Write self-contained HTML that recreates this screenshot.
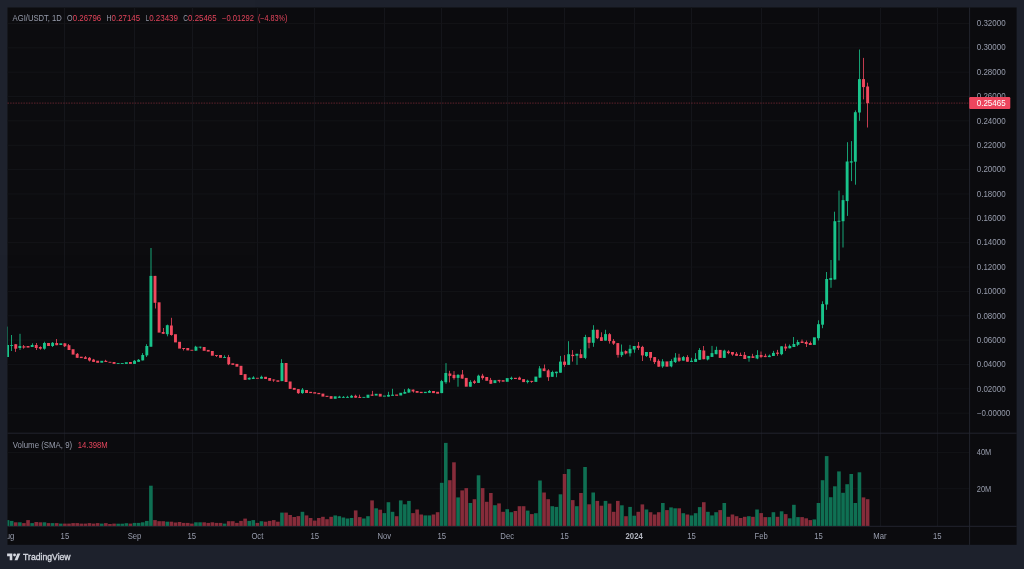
<!DOCTYPE html>
<html><head><meta charset="utf-8"><title>AGI/USDT chart</title>
<style>html,body{margin:0;padding:0;background:#1e222d;overflow:hidden}body{width:1024px;height:569px}svg{display:block;will-change:transform;opacity:0.999}text{font-family:"Liberation Sans",sans-serif;font-size:8.3px}</style>
</head><body>
<svg width="1024" height="569" viewBox="0 0 1024 569">
<defs><clipPath id="cc"><rect x="7.5" y="7.5" width="1009.1" height="537.3"/></clipPath></defs>
<rect x="0" y="0" width="1024" height="569" fill="#1e222d"/>
<rect x="7.5" y="7.5" width="1009.1" height="537.3" fill="#0c0c0f"/>
<g stroke="#15161b" stroke-width="0.8" fill="none">
<line x1="64.50" y1="7.5" x2="64.50" y2="526.3" stroke-width="1"/>
<line x1="134.50" y1="7.5" x2="134.50" y2="526.3" stroke-width="1"/>
<line x1="192.50" y1="7.5" x2="192.50" y2="526.3" stroke-width="1"/>
<line x1="257.50" y1="7.5" x2="257.50" y2="526.3" stroke-width="1"/>
<line x1="314.50" y1="7.5" x2="314.50" y2="526.3" stroke-width="1"/>
<line x1="384.50" y1="7.5" x2="384.50" y2="526.3" stroke-width="1"/>
<line x1="441.50" y1="7.5" x2="441.50" y2="526.3" stroke-width="1"/>
<line x1="507.50" y1="7.5" x2="507.50" y2="526.3" stroke-width="1"/>
<line x1="564.50" y1="7.5" x2="564.50" y2="526.3" stroke-width="1"/>
<line x1="634.50" y1="7.5" x2="634.50" y2="526.3" stroke-width="1"/>
<line x1="691.50" y1="7.5" x2="691.50" y2="526.3" stroke-width="1"/>
<line x1="761.50" y1="7.5" x2="761.50" y2="526.3" stroke-width="1"/>
<line x1="818.50" y1="7.5" x2="818.50" y2="526.3" stroke-width="1"/>
<line x1="880.50" y1="7.5" x2="880.50" y2="526.3" stroke-width="1"/>
<line x1="937.50" y1="7.5" x2="937.50" y2="526.3" stroke-width="1"/>
<line x1="7.5" y1="413.20" x2="969.6" y2="413.20"/>
<line x1="7.5" y1="388.84" x2="969.6" y2="388.84"/>
<line x1="7.5" y1="364.48" x2="969.6" y2="364.48"/>
<line x1="7.5" y1="340.12" x2="969.6" y2="340.12"/>
<line x1="7.5" y1="315.76" x2="969.6" y2="315.76"/>
<line x1="7.5" y1="291.40" x2="969.6" y2="291.40"/>
<line x1="7.5" y1="267.04" x2="969.6" y2="267.04"/>
<line x1="7.5" y1="242.68" x2="969.6" y2="242.68"/>
<line x1="7.5" y1="218.32" x2="969.6" y2="218.32"/>
<line x1="7.5" y1="193.96" x2="969.6" y2="193.96"/>
<line x1="7.5" y1="169.60" x2="969.6" y2="169.60"/>
<line x1="7.5" y1="145.24" x2="969.6" y2="145.24"/>
<line x1="7.5" y1="120.88" x2="969.6" y2="120.88"/>
<line x1="7.5" y1="96.52" x2="969.6" y2="96.52"/>
<line x1="7.5" y1="72.16" x2="969.6" y2="72.16"/>
<line x1="7.5" y1="47.80" x2="969.6" y2="47.80"/>
<line x1="7.5" y1="23.44" x2="969.6" y2="23.44"/>
<line x1="7.5" y1="452.40" x2="969.6" y2="452.40"/>
<line x1="7.5" y1="488.70" x2="969.6" y2="488.70"/>
</g>
<g stroke="#262832" stroke-width="0.9" fill="none">
<line x1="7.5" y1="433.2" x2="1016.6" y2="433.2"/>
<line x1="7.5" y1="526.3" x2="1016.6" y2="526.3"/>
<line x1="969.6" y1="7.5" x2="969.6" y2="544.8"/>
</g>
<g clip-path="url(#cc)">
<rect x="5.76" y="520.10" width="3.6" height="5.80" fill="#107154"/>
<rect x="9.86" y="520.90" width="3.6" height="5.00" fill="#107154"/>
<rect x="13.95" y="522.30" width="3.6" height="3.60" fill="#872d3b"/>
<rect x="18.05" y="522.30" width="3.6" height="3.60" fill="#107154"/>
<rect x="22.14" y="523.10" width="3.6" height="2.80" fill="#872d3b"/>
<rect x="26.24" y="520.10" width="3.6" height="5.80" fill="#872d3b"/>
<rect x="30.34" y="523.10" width="3.6" height="2.80" fill="#107154"/>
<rect x="34.43" y="522.00" width="3.6" height="3.90" fill="#872d3b"/>
<rect x="38.53" y="522.30" width="3.6" height="3.60" fill="#872d3b"/>
<rect x="42.62" y="522.30" width="3.6" height="3.60" fill="#107154"/>
<rect x="46.72" y="523.10" width="3.6" height="2.80" fill="#872d3b"/>
<rect x="50.81" y="523.10" width="3.6" height="2.80" fill="#107154"/>
<rect x="54.91" y="523.10" width="3.6" height="2.80" fill="#872d3b"/>
<rect x="59.00" y="523.60" width="3.6" height="2.30" fill="#107154"/>
<rect x="63.10" y="523.60" width="3.6" height="2.30" fill="#872d3b"/>
<rect x="67.20" y="523.60" width="3.6" height="2.30" fill="#872d3b"/>
<rect x="71.29" y="523.10" width="3.6" height="2.80" fill="#872d3b"/>
<rect x="75.39" y="523.10" width="3.6" height="2.80" fill="#872d3b"/>
<rect x="79.48" y="523.60" width="3.6" height="2.30" fill="#872d3b"/>
<rect x="83.58" y="523.60" width="3.6" height="2.30" fill="#872d3b"/>
<rect x="87.67" y="523.10" width="3.6" height="2.80" fill="#872d3b"/>
<rect x="91.77" y="523.60" width="3.6" height="2.30" fill="#872d3b"/>
<rect x="95.86" y="523.10" width="3.6" height="2.80" fill="#872d3b"/>
<rect x="99.96" y="523.60" width="3.6" height="2.30" fill="#107154"/>
<rect x="104.06" y="523.10" width="3.6" height="2.80" fill="#872d3b"/>
<rect x="108.15" y="524.00" width="3.6" height="1.90" fill="#872d3b"/>
<rect x="112.25" y="523.60" width="3.6" height="2.30" fill="#872d3b"/>
<rect x="116.34" y="523.70" width="3.6" height="2.20" fill="#107154"/>
<rect x="120.44" y="523.70" width="3.6" height="2.20" fill="#107154"/>
<rect x="124.53" y="523.20" width="3.6" height="2.70" fill="#107154"/>
<rect x="128.63" y="523.60" width="3.6" height="2.30" fill="#872d3b"/>
<rect x="132.72" y="522.90" width="3.6" height="3.00" fill="#107154"/>
<rect x="136.82" y="522.90" width="3.6" height="3.00" fill="#107154"/>
<rect x="140.91" y="522.30" width="3.6" height="3.60" fill="#107154"/>
<rect x="145.01" y="520.90" width="3.6" height="5.00" fill="#107154"/>
<rect x="149.11" y="485.70" width="3.6" height="40.20" fill="#107154"/>
<rect x="153.20" y="520.10" width="3.6" height="5.80" fill="#872d3b"/>
<rect x="157.30" y="521.20" width="3.6" height="4.70" fill="#872d3b"/>
<rect x="161.39" y="521.20" width="3.6" height="4.70" fill="#872d3b"/>
<rect x="165.49" y="521.70" width="3.6" height="4.20" fill="#107154"/>
<rect x="169.58" y="521.70" width="3.6" height="4.20" fill="#872d3b"/>
<rect x="173.68" y="522.50" width="3.6" height="3.40" fill="#872d3b"/>
<rect x="177.77" y="522.00" width="3.6" height="3.90" fill="#872d3b"/>
<rect x="181.87" y="522.90" width="3.6" height="3.00" fill="#872d3b"/>
<rect x="185.97" y="522.90" width="3.6" height="3.00" fill="#872d3b"/>
<rect x="190.06" y="523.60" width="3.6" height="2.30" fill="#872d3b"/>
<rect x="194.16" y="522.30" width="3.6" height="3.60" fill="#107154"/>
<rect x="198.25" y="522.30" width="3.6" height="3.60" fill="#107154"/>
<rect x="202.35" y="522.30" width="3.6" height="3.60" fill="#872d3b"/>
<rect x="206.44" y="522.90" width="3.6" height="3.00" fill="#872d3b"/>
<rect x="210.54" y="522.30" width="3.6" height="3.60" fill="#872d3b"/>
<rect x="214.63" y="522.90" width="3.6" height="3.00" fill="#872d3b"/>
<rect x="218.73" y="522.90" width="3.6" height="3.00" fill="#872d3b"/>
<rect x="222.82" y="523.60" width="3.6" height="2.30" fill="#107154"/>
<rect x="226.92" y="521.20" width="3.6" height="4.70" fill="#872d3b"/>
<rect x="231.02" y="521.20" width="3.6" height="4.70" fill="#872d3b"/>
<rect x="235.11" y="522.90" width="3.6" height="3.00" fill="#872d3b"/>
<rect x="239.21" y="520.90" width="3.6" height="5.00" fill="#872d3b"/>
<rect x="243.30" y="518.60" width="3.6" height="7.30" fill="#872d3b"/>
<rect x="247.40" y="520.90" width="3.6" height="5.00" fill="#107154"/>
<rect x="251.49" y="520.10" width="3.6" height="5.80" fill="#107154"/>
<rect x="255.59" y="522.90" width="3.6" height="3.00" fill="#872d3b"/>
<rect x="259.68" y="521.20" width="3.6" height="4.70" fill="#107154"/>
<rect x="263.78" y="521.70" width="3.6" height="4.20" fill="#872d3b"/>
<rect x="267.88" y="520.90" width="3.6" height="5.00" fill="#872d3b"/>
<rect x="271.97" y="520.10" width="3.6" height="5.80" fill="#872d3b"/>
<rect x="276.07" y="521.70" width="3.6" height="4.20" fill="#872d3b"/>
<rect x="280.16" y="512.60" width="3.6" height="13.30" fill="#107154"/>
<rect x="284.26" y="512.60" width="3.6" height="13.30" fill="#872d3b"/>
<rect x="288.35" y="515.00" width="3.6" height="10.90" fill="#872d3b"/>
<rect x="292.45" y="517.00" width="3.6" height="8.90" fill="#872d3b"/>
<rect x="296.54" y="516.10" width="3.6" height="9.80" fill="#872d3b"/>
<rect x="300.64" y="511.80" width="3.6" height="14.10" fill="#107154"/>
<rect x="304.73" y="515.40" width="3.6" height="10.50" fill="#872d3b"/>
<rect x="308.83" y="518.00" width="3.6" height="7.90" fill="#872d3b"/>
<rect x="312.93" y="520.60" width="3.6" height="5.30" fill="#872d3b"/>
<rect x="317.02" y="518.00" width="3.6" height="7.90" fill="#872d3b"/>
<rect x="321.12" y="516.80" width="3.6" height="9.10" fill="#872d3b"/>
<rect x="325.21" y="519.20" width="3.6" height="6.70" fill="#872d3b"/>
<rect x="329.31" y="516.80" width="3.6" height="9.10" fill="#872d3b"/>
<rect x="333.40" y="515.40" width="3.6" height="10.50" fill="#107154"/>
<rect x="337.50" y="516.20" width="3.6" height="9.70" fill="#107154"/>
<rect x="341.59" y="517.50" width="3.6" height="8.40" fill="#107154"/>
<rect x="345.69" y="518.50" width="3.6" height="7.40" fill="#107154"/>
<rect x="349.79" y="518.00" width="3.6" height="7.90" fill="#107154"/>
<rect x="353.88" y="510.40" width="3.6" height="15.50" fill="#872d3b"/>
<rect x="357.98" y="517.10" width="3.6" height="8.80" fill="#872d3b"/>
<rect x="362.07" y="518.50" width="3.6" height="7.40" fill="#107154"/>
<rect x="366.17" y="516.20" width="3.6" height="9.70" fill="#107154"/>
<rect x="370.26" y="500.40" width="3.6" height="25.50" fill="#872d3b"/>
<rect x="374.36" y="508.30" width="3.6" height="17.60" fill="#107154"/>
<rect x="378.45" y="509.70" width="3.6" height="16.20" fill="#872d3b"/>
<rect x="382.55" y="513.10" width="3.6" height="12.80" fill="#107154"/>
<rect x="386.64" y="502.20" width="3.6" height="23.70" fill="#107154"/>
<rect x="390.74" y="511.80" width="3.6" height="14.10" fill="#107154"/>
<rect x="394.84" y="516.20" width="3.6" height="9.70" fill="#872d3b"/>
<rect x="398.93" y="500.40" width="3.6" height="25.50" fill="#107154"/>
<rect x="403.03" y="504.30" width="3.6" height="21.60" fill="#107154"/>
<rect x="407.12" y="500.90" width="3.6" height="25.00" fill="#107154"/>
<rect x="411.22" y="513.10" width="3.6" height="12.80" fill="#872d3b"/>
<rect x="415.31" y="509.50" width="3.6" height="16.40" fill="#872d3b"/>
<rect x="419.41" y="514.50" width="3.6" height="11.40" fill="#872d3b"/>
<rect x="423.50" y="515.40" width="3.6" height="10.50" fill="#107154"/>
<rect x="427.60" y="515.40" width="3.6" height="10.50" fill="#107154"/>
<rect x="431.69" y="514.50" width="3.6" height="11.40" fill="#872d3b"/>
<rect x="435.79" y="512.20" width="3.6" height="13.70" fill="#872d3b"/>
<rect x="439.89" y="482.80" width="3.6" height="43.10" fill="#107154"/>
<rect x="443.98" y="442.90" width="3.6" height="83.00" fill="#107154"/>
<rect x="448.08" y="480.20" width="3.6" height="45.70" fill="#872d3b"/>
<rect x="452.17" y="462.30" width="3.6" height="63.60" fill="#872d3b"/>
<rect x="456.27" y="497.40" width="3.6" height="28.50" fill="#107154"/>
<rect x="460.36" y="490.40" width="3.6" height="35.50" fill="#872d3b"/>
<rect x="464.46" y="488.10" width="3.6" height="37.80" fill="#872d3b"/>
<rect x="468.55" y="503.00" width="3.6" height="22.90" fill="#107154"/>
<rect x="472.65" y="499.20" width="3.6" height="26.70" fill="#872d3b"/>
<rect x="476.75" y="475.30" width="3.6" height="50.60" fill="#107154"/>
<rect x="480.84" y="488.10" width="3.6" height="37.80" fill="#872d3b"/>
<rect x="484.94" y="501.80" width="3.6" height="24.10" fill="#872d3b"/>
<rect x="489.03" y="493.00" width="3.6" height="32.90" fill="#872d3b"/>
<rect x="493.13" y="505.20" width="3.6" height="20.70" fill="#107154"/>
<rect x="497.22" y="503.40" width="3.6" height="22.50" fill="#872d3b"/>
<rect x="501.32" y="511.80" width="3.6" height="14.10" fill="#872d3b"/>
<rect x="505.41" y="509.20" width="3.6" height="16.70" fill="#107154"/>
<rect x="509.51" y="512.20" width="3.6" height="13.70" fill="#107154"/>
<rect x="513.61" y="511.00" width="3.6" height="14.90" fill="#872d3b"/>
<rect x="517.70" y="506.20" width="3.6" height="19.70" fill="#872d3b"/>
<rect x="521.80" y="506.20" width="3.6" height="19.70" fill="#872d3b"/>
<rect x="525.89" y="510.60" width="3.6" height="15.30" fill="#107154"/>
<rect x="529.99" y="514.10" width="3.6" height="11.80" fill="#872d3b"/>
<rect x="534.08" y="513.20" width="3.6" height="12.70" fill="#107154"/>
<rect x="538.18" y="480.50" width="3.6" height="45.40" fill="#107154"/>
<rect x="542.27" y="492.50" width="3.6" height="33.40" fill="#872d3b"/>
<rect x="546.37" y="499.20" width="3.6" height="26.70" fill="#872d3b"/>
<rect x="550.46" y="506.20" width="3.6" height="19.70" fill="#107154"/>
<rect x="554.56" y="506.90" width="3.6" height="19.00" fill="#107154"/>
<rect x="558.66" y="494.30" width="3.6" height="31.60" fill="#107154"/>
<rect x="562.75" y="474.00" width="3.6" height="51.90" fill="#872d3b"/>
<rect x="566.85" y="469.10" width="3.6" height="56.80" fill="#107154"/>
<rect x="570.94" y="500.10" width="3.6" height="25.80" fill="#872d3b"/>
<rect x="575.04" y="506.20" width="3.6" height="19.70" fill="#107154"/>
<rect x="579.13" y="493.00" width="3.6" height="32.90" fill="#872d3b"/>
<rect x="583.23" y="467.00" width="3.6" height="58.90" fill="#107154"/>
<rect x="587.32" y="504.30" width="3.6" height="21.60" fill="#872d3b"/>
<rect x="591.42" y="492.50" width="3.6" height="33.40" fill="#107154"/>
<rect x="595.52" y="500.90" width="3.6" height="25.00" fill="#872d3b"/>
<rect x="599.61" y="505.70" width="3.6" height="20.20" fill="#872d3b"/>
<rect x="603.71" y="500.90" width="3.6" height="25.00" fill="#107154"/>
<rect x="607.80" y="503.60" width="3.6" height="22.30" fill="#872d3b"/>
<rect x="611.90" y="511.80" width="3.6" height="14.10" fill="#872d3b"/>
<rect x="615.99" y="500.90" width="3.6" height="25.00" fill="#872d3b"/>
<rect x="620.09" y="505.30" width="3.6" height="20.60" fill="#107154"/>
<rect x="624.18" y="516.20" width="3.6" height="9.70" fill="#872d3b"/>
<rect x="628.28" y="506.90" width="3.6" height="19.00" fill="#107154"/>
<rect x="632.37" y="515.70" width="3.6" height="10.20" fill="#107154"/>
<rect x="636.47" y="511.80" width="3.6" height="14.10" fill="#872d3b"/>
<rect x="640.57" y="504.40" width="3.6" height="21.50" fill="#872d3b"/>
<rect x="644.66" y="509.50" width="3.6" height="16.40" fill="#107154"/>
<rect x="648.76" y="512.20" width="3.6" height="13.70" fill="#872d3b"/>
<rect x="652.85" y="514.50" width="3.6" height="11.40" fill="#872d3b"/>
<rect x="656.95" y="512.20" width="3.6" height="13.70" fill="#872d3b"/>
<rect x="661.04" y="503.00" width="3.6" height="22.90" fill="#107154"/>
<rect x="665.14" y="510.10" width="3.6" height="15.80" fill="#872d3b"/>
<rect x="669.23" y="507.40" width="3.6" height="18.50" fill="#107154"/>
<rect x="673.33" y="508.30" width="3.6" height="17.60" fill="#107154"/>
<rect x="677.43" y="508.30" width="3.6" height="17.60" fill="#872d3b"/>
<rect x="681.52" y="513.20" width="3.6" height="12.70" fill="#107154"/>
<rect x="685.62" y="514.50" width="3.6" height="11.40" fill="#872d3b"/>
<rect x="689.71" y="515.40" width="3.6" height="10.50" fill="#107154"/>
<rect x="693.81" y="513.20" width="3.6" height="12.70" fill="#107154"/>
<rect x="697.90" y="507.10" width="3.6" height="18.80" fill="#107154"/>
<rect x="702.00" y="502.20" width="3.6" height="23.70" fill="#872d3b"/>
<rect x="706.09" y="511.80" width="3.6" height="14.10" fill="#107154"/>
<rect x="710.19" y="515.40" width="3.6" height="10.50" fill="#107154"/>
<rect x="714.28" y="512.20" width="3.6" height="13.70" fill="#107154"/>
<rect x="718.38" y="510.10" width="3.6" height="15.80" fill="#872d3b"/>
<rect x="722.48" y="503.00" width="3.6" height="22.90" fill="#107154"/>
<rect x="726.57" y="516.80" width="3.6" height="9.10" fill="#872d3b"/>
<rect x="730.67" y="514.50" width="3.6" height="11.40" fill="#872d3b"/>
<rect x="734.76" y="516.20" width="3.6" height="9.70" fill="#872d3b"/>
<rect x="738.86" y="518.00" width="3.6" height="7.90" fill="#872d3b"/>
<rect x="742.95" y="516.80" width="3.6" height="9.10" fill="#872d3b"/>
<rect x="747.05" y="516.20" width="3.6" height="9.70" fill="#107154"/>
<rect x="751.14" y="516.80" width="3.6" height="9.10" fill="#872d3b"/>
<rect x="755.24" y="509.50" width="3.6" height="16.40" fill="#107154"/>
<rect x="759.34" y="513.10" width="3.6" height="12.80" fill="#872d3b"/>
<rect x="763.43" y="517.10" width="3.6" height="8.80" fill="#872d3b"/>
<rect x="767.53" y="517.10" width="3.6" height="8.80" fill="#107154"/>
<rect x="771.62" y="512.20" width="3.6" height="13.70" fill="#107154"/>
<rect x="775.72" y="516.80" width="3.6" height="9.10" fill="#872d3b"/>
<rect x="779.81" y="511.30" width="3.6" height="14.60" fill="#107154"/>
<rect x="783.91" y="514.10" width="3.6" height="11.80" fill="#872d3b"/>
<rect x="788.00" y="518.30" width="3.6" height="7.60" fill="#107154"/>
<rect x="792.10" y="504.80" width="3.6" height="21.10" fill="#107154"/>
<rect x="796.19" y="517.10" width="3.6" height="8.80" fill="#107154"/>
<rect x="800.29" y="517.10" width="3.6" height="8.80" fill="#872d3b"/>
<rect x="804.39" y="518.30" width="3.6" height="7.60" fill="#872d3b"/>
<rect x="808.48" y="520.10" width="3.6" height="5.80" fill="#872d3b"/>
<rect x="812.58" y="519.40" width="3.6" height="6.50" fill="#107154"/>
<rect x="816.67" y="503.00" width="3.6" height="22.90" fill="#107154"/>
<rect x="820.77" y="480.20" width="3.6" height="45.70" fill="#107154"/>
<rect x="824.86" y="456.10" width="3.6" height="69.80" fill="#107154"/>
<rect x="828.96" y="497.20" width="3.6" height="28.70" fill="#107154"/>
<rect x="833.05" y="486.30" width="3.6" height="39.60" fill="#107154"/>
<rect x="837.15" y="471.40" width="3.6" height="54.50" fill="#107154"/>
<rect x="841.25" y="492.80" width="3.6" height="33.10" fill="#107154"/>
<rect x="845.34" y="484.20" width="3.6" height="41.70" fill="#107154"/>
<rect x="849.44" y="474.00" width="3.6" height="51.90" fill="#107154"/>
<rect x="853.53" y="503.00" width="3.6" height="22.90" fill="#107154"/>
<rect x="857.63" y="472.30" width="3.6" height="53.60" fill="#107154"/>
<rect x="861.72" y="497.40" width="3.6" height="28.50" fill="#872d3b"/>
<rect x="865.82" y="499.20" width="3.6" height="26.70" fill="#872d3b"/>
</g>
<line x1="7.5" y1="103.1" x2="969.6" y2="103.1" stroke="#f2495f" stroke-width="1" stroke-dasharray="1.5 1.15" opacity="0.37"/>
<g clip-path="url(#cc)">
<rect x="7" y="326.60" width="1" height="30.40" fill="#1ac58c" opacity="0.8"/>
<rect x="6.11" y="345.00" width="2.9" height="12.00" fill="#1ac58c"/>
<rect x="11" y="335.00" width="1" height="16.00" fill="#1ac58c" opacity="0.8"/>
<rect x="10.21" y="345.00" width="2.9" height="0.90" fill="#1ac58c"/>
<rect x="15" y="344.20" width="1" height="7.70" fill="#f2495f" opacity="0.8"/>
<rect x="14.30" y="344.20" width="2.9" height="4.50" fill="#f2495f"/>
<rect x="19" y="333.80" width="2" height="16.20" fill="#1ac58c" opacity="0.42"/>
<rect x="18.40" y="346.00" width="2.9" height="2.00" fill="#1ac58c"/>
<rect x="23" y="345.00" width="1" height="3.70" fill="#f2495f" opacity="0.8"/>
<rect x="22.50" y="346.30" width="2.9" height="1.30" fill="#f2495f"/>
<rect x="26.59" y="346.00" width="2.9" height="1.60" fill="#f2495f"/>
<rect x="32" y="343.30" width="1" height="3.70" fill="#1ac58c" opacity="0.8"/>
<rect x="30.69" y="345.00" width="2.9" height="2.00" fill="#1ac58c"/>
<rect x="36" y="343.00" width="1" height="7.00" fill="#f2495f" opacity="0.8"/>
<rect x="34.78" y="345.00" width="2.9" height="3.00" fill="#f2495f"/>
<rect x="40" y="346.30" width="1" height="3.40" fill="#f2495f" opacity="0.8"/>
<rect x="38.88" y="347.00" width="2.9" height="1.70" fill="#f2495f"/>
<rect x="44" y="341.70" width="1" height="8.00" fill="#1ac58c" opacity="0.8"/>
<rect x="42.97" y="343.00" width="2.9" height="5.70" fill="#1ac58c"/>
<rect x="47.07" y="343.00" width="2.9" height="3.00" fill="#f2495f"/>
<rect x="52" y="342.00" width="1" height="5.00" fill="#1ac58c" opacity="0.8"/>
<rect x="51.16" y="342.80" width="2.9" height="3.20" fill="#1ac58c"/>
<rect x="56" y="339.00" width="1" height="6.20" fill="#f2495f" opacity="0.8"/>
<rect x="55.26" y="343.00" width="2.9" height="2.20" fill="#f2495f"/>
<rect x="59.35" y="343.30" width="2.9" height="1.70" fill="#1ac58c"/>
<rect x="64" y="343.30" width="1" height="3.70" fill="#f2495f" opacity="0.8"/>
<rect x="63.45" y="343.30" width="2.9" height="3.00" fill="#f2495f"/>
<rect x="68" y="344.00" width="1" height="6.00" fill="#f2495f" opacity="0.8"/>
<rect x="67.55" y="345.20" width="2.9" height="4.80" fill="#f2495f"/>
<rect x="71.64" y="349.20" width="2.9" height="5.40" fill="#f2495f"/>
<rect x="77" y="353.00" width="1" height="4.80" fill="#f2495f" opacity="0.8"/>
<rect x="75.74" y="353.80" width="2.9" height="4.00" fill="#f2495f"/>
<rect x="79.83" y="356.70" width="2.9" height="1.40" fill="#f2495f"/>
<rect x="85" y="356.00" width="1" height="2.90" fill="#f2495f" opacity="0.8"/>
<rect x="83.93" y="357.30" width="2.9" height="1.60" fill="#f2495f"/>
<rect x="89" y="357.00" width="1" height="4.50" fill="#f2495f" opacity="0.8"/>
<rect x="88.02" y="357.80" width="2.9" height="2.70" fill="#f2495f"/>
<rect x="93" y="358.90" width="1" height="3.00" fill="#f2495f" opacity="0.8"/>
<rect x="92.12" y="359.60" width="2.9" height="2.30" fill="#f2495f"/>
<rect x="96.21" y="360.70" width="2.9" height="2.10" fill="#f2495f"/>
<rect x="100.31" y="360.80" width="2.9" height="1.90" fill="#1ac58c"/>
<rect x="105" y="359.80" width="1" height="2.20" fill="#f2495f" opacity="0.8"/>
<rect x="104.41" y="360.80" width="2.9" height="1.20" fill="#f2495f"/>
<rect x="108.50" y="361.80" width="2.9" height="0.90" fill="#f2495f"/>
<rect x="112.60" y="362.00" width="2.9" height="1.90" fill="#f2495f"/>
<rect x="116.69" y="363.00" width="2.9" height="0.90" fill="#1ac58c"/>
<rect x="120.79" y="363.00" width="2.9" height="0.90" fill="#1ac58c"/>
<rect x="124.88" y="362.20" width="2.9" height="1.70" fill="#1ac58c"/>
<rect x="128.98" y="362.00" width="2.9" height="1.90" fill="#f2495f"/>
<rect x="134" y="360.00" width="1" height="3.90" fill="#1ac58c" opacity="0.8"/>
<rect x="133.07" y="360.80" width="2.9" height="3.10" fill="#1ac58c"/>
<rect x="138" y="359.00" width="1" height="2.80" fill="#1ac58c" opacity="0.8"/>
<rect x="137.17" y="359.80" width="2.9" height="2.00" fill="#1ac58c"/>
<rect x="142" y="353.10" width="1" height="7.30" fill="#1ac58c" opacity="0.8"/>
<rect x="141.26" y="355.00" width="2.9" height="5.40" fill="#1ac58c"/>
<rect x="146" y="344.20" width="1" height="12.80" fill="#1ac58c" opacity="0.8"/>
<rect x="145.36" y="346.00" width="2.9" height="9.40" fill="#1ac58c"/>
<rect x="150" y="248.00" width="2" height="98.70" fill="#1ac58c" opacity="0.42"/>
<rect x="149.46" y="275.90" width="2.9" height="70.80" fill="#1ac58c"/>
<rect x="155" y="275.90" width="1" height="32.60" fill="#f2495f" opacity="0.8"/>
<rect x="153.55" y="275.90" width="2.9" height="26.90" fill="#f2495f"/>
<rect x="157.65" y="302.30" width="2.9" height="30.30" fill="#f2495f"/>
<rect x="163" y="328.00" width="1" height="5.80" fill="#f2495f" opacity="0.8"/>
<rect x="161.74" y="332.00" width="2.9" height="1.80" fill="#f2495f"/>
<rect x="167" y="324.60" width="1" height="11.70" fill="#1ac58c" opacity="0.8"/>
<rect x="165.84" y="325.20" width="2.9" height="9.00" fill="#1ac58c"/>
<rect x="171" y="317.80" width="1" height="17.90" fill="#f2495f" opacity="0.8"/>
<rect x="169.93" y="325.50" width="2.9" height="9.50" fill="#f2495f"/>
<rect x="174.03" y="334.20" width="2.9" height="8.20" fill="#f2495f"/>
<rect x="178.12" y="341.80" width="2.9" height="6.80" fill="#f2495f"/>
<rect x="183" y="348.00" width="1" height="2.50" fill="#f2495f" opacity="0.8"/>
<rect x="182.22" y="348.00" width="2.9" height="1.00" fill="#f2495f"/>
<rect x="186.32" y="348.00" width="2.9" height="2.40" fill="#f2495f"/>
<rect x="190.41" y="349.80" width="2.9" height="0.90" fill="#f2495f"/>
<rect x="195" y="345.80" width="1" height="4.90" fill="#1ac58c" opacity="0.8"/>
<rect x="194.51" y="346.70" width="2.9" height="4.00" fill="#1ac58c"/>
<rect x="200" y="346.70" width="1" height="1.80" fill="#1ac58c" opacity="0.8"/>
<rect x="198.60" y="346.70" width="2.9" height="0.90" fill="#1ac58c"/>
<rect x="202.70" y="347.00" width="2.9" height="3.80" fill="#f2495f"/>
<rect x="206.79" y="349.90" width="2.9" height="1.70" fill="#f2495f"/>
<rect x="210.89" y="351.00" width="2.9" height="4.70" fill="#f2495f"/>
<rect x="216" y="355.00" width="1" height="2.00" fill="#f2495f" opacity="0.8"/>
<rect x="214.98" y="355.00" width="2.9" height="0.90" fill="#f2495f"/>
<rect x="219.08" y="355.00" width="2.9" height="2.80" fill="#f2495f"/>
<rect x="224" y="355.30" width="1" height="2.50" fill="#1ac58c" opacity="0.8"/>
<rect x="223.17" y="357.10" width="2.9" height="0.90" fill="#1ac58c"/>
<rect x="228" y="354.90" width="1" height="10.20" fill="#f2495f" opacity="0.8"/>
<rect x="227.27" y="357.10" width="2.9" height="7.20" fill="#f2495f"/>
<rect x="231.37" y="363.30" width="2.9" height="1.60" fill="#f2495f"/>
<rect x="235.46" y="363.90" width="2.9" height="2.80" fill="#f2495f"/>
<rect x="239.56" y="365.80" width="2.9" height="9.20" fill="#f2495f"/>
<rect x="243.65" y="374.10" width="2.9" height="5.80" fill="#f2495f"/>
<rect x="249" y="377.50" width="1" height="2.00" fill="#1ac58c" opacity="0.8"/>
<rect x="247.75" y="377.80" width="2.9" height="1.70" fill="#1ac58c"/>
<rect x="253" y="376.20" width="1" height="2.80" fill="#1ac58c" opacity="0.8"/>
<rect x="251.84" y="377.50" width="2.9" height="1.50" fill="#1ac58c"/>
<rect x="255.94" y="377.80" width="2.9" height="0.90" fill="#f2495f"/>
<rect x="261" y="375.60" width="1" height="3.10" fill="#1ac58c" opacity="0.8"/>
<rect x="260.03" y="376.80" width="2.9" height="1.90" fill="#1ac58c"/>
<rect x="264.13" y="376.80" width="2.9" height="2.20" fill="#f2495f"/>
<rect x="268.23" y="378.00" width="2.9" height="2.80" fill="#f2495f"/>
<rect x="273" y="379.50" width="1" height="2.30" fill="#f2495f" opacity="0.8"/>
<rect x="272.32" y="379.50" width="2.9" height="1.00" fill="#f2495f"/>
<rect x="276.42" y="380.30" width="2.9" height="1.50" fill="#f2495f"/>
<rect x="281" y="359.20" width="1" height="21.90" fill="#1ac58c" opacity="0.8"/>
<rect x="280.51" y="363.00" width="2.9" height="18.10" fill="#1ac58c"/>
<rect x="284.61" y="363.00" width="2.9" height="19.00" fill="#f2495f"/>
<rect x="288.70" y="381.50" width="2.9" height="7.40" fill="#f2495f"/>
<rect x="292.80" y="387.90" width="2.9" height="1.90" fill="#f2495f"/>
<rect x="298" y="389.10" width="1" height="4.70" fill="#f2495f" opacity="0.8"/>
<rect x="296.89" y="389.10" width="2.9" height="4.10" fill="#f2495f"/>
<rect x="302" y="388.00" width="1" height="5.80" fill="#1ac58c" opacity="0.8"/>
<rect x="300.99" y="389.60" width="2.9" height="3.50" fill="#1ac58c"/>
<rect x="305.08" y="390.00" width="2.9" height="3.00" fill="#f2495f"/>
<rect x="309.18" y="391.80" width="2.9" height="1.30" fill="#f2495f"/>
<rect x="313.28" y="392.20" width="2.9" height="1.40" fill="#f2495f"/>
<rect x="317.37" y="392.90" width="2.9" height="1.30" fill="#f2495f"/>
<rect x="321.47" y="393.60" width="2.9" height="3.00" fill="#f2495f"/>
<rect x="325.56" y="395.80" width="2.9" height="1.10" fill="#f2495f"/>
<rect x="329.66" y="396.10" width="2.9" height="2.70" fill="#f2495f"/>
<rect x="333.75" y="396.30" width="2.9" height="2.50" fill="#1ac58c"/>
<rect x="339" y="395.80" width="1" height="2.10" fill="#1ac58c" opacity="0.8"/>
<rect x="337.85" y="396.60" width="2.9" height="1.30" fill="#1ac58c"/>
<rect x="343" y="396.00" width="1" height="1.70" fill="#1ac58c" opacity="0.8"/>
<rect x="341.94" y="396.90" width="2.9" height="0.90" fill="#1ac58c"/>
<rect x="347" y="395.80" width="1" height="1.90" fill="#1ac58c" opacity="0.8"/>
<rect x="346.04" y="396.90" width="2.9" height="0.90" fill="#1ac58c"/>
<rect x="351" y="394.90" width="1" height="2.80" fill="#1ac58c" opacity="0.8"/>
<rect x="350.14" y="395.80" width="2.9" height="1.90" fill="#1ac58c"/>
<rect x="355" y="394.70" width="1" height="3.00" fill="#f2495f" opacity="0.8"/>
<rect x="354.23" y="395.80" width="2.9" height="1.90" fill="#f2495f"/>
<rect x="359" y="394.70" width="1" height="3.20" fill="#f2495f" opacity="0.8"/>
<rect x="358.33" y="396.90" width="2.9" height="1.00" fill="#f2495f"/>
<rect x="362.42" y="396.90" width="2.9" height="0.90" fill="#1ac58c"/>
<rect x="366.52" y="394.70" width="2.9" height="3.20" fill="#1ac58c"/>
<rect x="372" y="390.90" width="1" height="4.90" fill="#f2495f" opacity="0.8"/>
<rect x="370.61" y="394.50" width="2.9" height="1.30" fill="#f2495f"/>
<rect x="374.71" y="393.80" width="2.9" height="1.80" fill="#1ac58c"/>
<rect x="378.80" y="393.80" width="2.9" height="2.80" fill="#f2495f"/>
<rect x="382.90" y="395.60" width="2.9" height="1.00" fill="#1ac58c"/>
<rect x="388" y="391.80" width="1" height="4.80" fill="#1ac58c" opacity="0.8"/>
<rect x="386.99" y="394.90" width="2.9" height="1.70" fill="#1ac58c"/>
<rect x="392" y="388.80" width="1" height="7.00" fill="#1ac58c" opacity="0.8"/>
<rect x="391.09" y="394.70" width="2.9" height="1.10" fill="#1ac58c"/>
<rect x="395.19" y="394.50" width="2.9" height="1.30" fill="#f2495f"/>
<rect x="399.28" y="392.80" width="2.9" height="2.70" fill="#1ac58c"/>
<rect x="404" y="389.20" width="1" height="4.50" fill="#1ac58c" opacity="0.8"/>
<rect x="403.38" y="391.90" width="2.9" height="1.80" fill="#1ac58c"/>
<rect x="408" y="388.10" width="1" height="4.50" fill="#1ac58c" opacity="0.8"/>
<rect x="407.47" y="389.20" width="2.9" height="3.40" fill="#1ac58c"/>
<rect x="413" y="389.60" width="1" height="3.00" fill="#f2495f" opacity="0.8"/>
<rect x="411.57" y="389.60" width="2.9" height="1.90" fill="#f2495f"/>
<rect x="415.66" y="391.00" width="2.9" height="1.80" fill="#f2495f"/>
<rect x="419.76" y="391.80" width="2.9" height="1.30" fill="#f2495f"/>
<rect x="423.85" y="391.80" width="2.9" height="1.30" fill="#1ac58c"/>
<rect x="429" y="390.00" width="1" height="2.80" fill="#1ac58c" opacity="0.8"/>
<rect x="427.95" y="391.00" width="2.9" height="1.80" fill="#1ac58c"/>
<rect x="432.05" y="391.00" width="2.9" height="2.10" fill="#f2495f"/>
<rect x="436.14" y="391.80" width="2.9" height="1.90" fill="#f2495f"/>
<rect x="441" y="379.90" width="1" height="13.20" fill="#1ac58c" opacity="0.8"/>
<rect x="440.24" y="381.10" width="2.9" height="12.00" fill="#1ac58c"/>
<rect x="445" y="363.10" width="2" height="20.70" fill="#1ac58c" opacity="0.42"/>
<rect x="444.33" y="373.00" width="2.9" height="9.20" fill="#1ac58c"/>
<rect x="449" y="370.80" width="1" height="11.60" fill="#f2495f" opacity="0.8"/>
<rect x="448.43" y="373.50" width="2.9" height="2.40" fill="#f2495f"/>
<rect x="453" y="371.10" width="2" height="8.60" fill="#f2495f" opacity="0.42"/>
<rect x="452.52" y="374.90" width="2.9" height="3.20" fill="#f2495f"/>
<rect x="457" y="374.10" width="2" height="12.60" fill="#1ac58c" opacity="0.42"/>
<rect x="456.62" y="374.90" width="2.9" height="3.00" fill="#1ac58c"/>
<rect x="462" y="370.00" width="1" height="8.60" fill="#f2495f" opacity="0.8"/>
<rect x="460.71" y="374.50" width="2.9" height="4.10" fill="#f2495f"/>
<rect x="464.81" y="377.90" width="2.9" height="8.80" fill="#f2495f"/>
<rect x="470" y="380.20" width="1" height="6.50" fill="#1ac58c" opacity="0.8"/>
<rect x="468.90" y="381.90" width="2.9" height="4.80" fill="#1ac58c"/>
<rect x="474" y="379.90" width="1" height="4.10" fill="#f2495f" opacity="0.8"/>
<rect x="473.00" y="381.30" width="2.9" height="1.60" fill="#f2495f"/>
<rect x="478" y="374.70" width="1" height="8.20" fill="#1ac58c" opacity="0.8"/>
<rect x="477.10" y="375.70" width="2.9" height="7.20" fill="#1ac58c"/>
<rect x="482" y="373.80" width="1" height="5.90" fill="#f2495f" opacity="0.8"/>
<rect x="481.19" y="375.70" width="2.9" height="2.40" fill="#f2495f"/>
<rect x="485.29" y="377.00" width="2.9" height="3.80" fill="#f2495f"/>
<rect x="490" y="377.90" width="1" height="5.90" fill="#f2495f" opacity="0.8"/>
<rect x="489.38" y="379.90" width="2.9" height="3.90" fill="#f2495f"/>
<rect x="493.48" y="380.20" width="2.9" height="2.90" fill="#1ac58c"/>
<rect x="499" y="379.90" width="1" height="2.80" fill="#f2495f" opacity="0.8"/>
<rect x="497.57" y="379.90" width="2.9" height="1.40" fill="#f2495f"/>
<rect x="501.67" y="380.20" width="2.9" height="1.50" fill="#f2495f"/>
<rect x="505.76" y="378.10" width="2.9" height="3.70" fill="#1ac58c"/>
<rect x="511" y="376.60" width="1" height="3.40" fill="#1ac58c" opacity="0.8"/>
<rect x="509.86" y="377.80" width="2.9" height="1.20" fill="#1ac58c"/>
<rect x="513.96" y="377.80" width="2.9" height="1.20" fill="#f2495f"/>
<rect x="519" y="376.60" width="1" height="3.10" fill="#f2495f" opacity="0.8"/>
<rect x="518.05" y="377.60" width="2.9" height="2.10" fill="#f2495f"/>
<rect x="522.15" y="379.10" width="2.9" height="3.00" fill="#f2495f"/>
<rect x="527" y="379.70" width="1" height="3.70" fill="#1ac58c" opacity="0.8"/>
<rect x="526.24" y="380.70" width="2.9" height="1.40" fill="#1ac58c"/>
<rect x="531" y="380.90" width="1" height="1.90" fill="#f2495f" opacity="0.8"/>
<rect x="530.34" y="380.90" width="2.9" height="1.00" fill="#f2495f"/>
<rect x="534.43" y="376.60" width="2.9" height="5.30" fill="#1ac58c"/>
<rect x="539" y="366.10" width="1" height="11.50" fill="#1ac58c" opacity="0.8"/>
<rect x="538.53" y="368.40" width="2.9" height="9.20" fill="#1ac58c"/>
<rect x="544" y="364.50" width="1" height="6.60" fill="#f2495f" opacity="0.8"/>
<rect x="542.62" y="368.40" width="2.9" height="2.70" fill="#f2495f"/>
<rect x="548" y="369.20" width="1" height="11.70" fill="#f2495f" opacity="0.8"/>
<rect x="546.72" y="370.40" width="2.9" height="6.80" fill="#f2495f"/>
<rect x="552" y="370.70" width="1" height="6.10" fill="#1ac58c" opacity="0.8"/>
<rect x="550.81" y="372.00" width="2.9" height="4.80" fill="#1ac58c"/>
<rect x="556" y="371.70" width="1" height="5.50" fill="#1ac58c" opacity="0.8"/>
<rect x="554.91" y="371.70" width="2.9" height="1.50" fill="#1ac58c"/>
<rect x="560" y="355.90" width="1" height="16.80" fill="#1ac58c" opacity="0.8"/>
<rect x="559.01" y="361.60" width="2.9" height="11.10" fill="#1ac58c"/>
<rect x="564" y="355.10" width="1" height="11.70" fill="#f2495f" opacity="0.8"/>
<rect x="563.10" y="361.60" width="2.9" height="3.30" fill="#f2495f"/>
<rect x="568" y="341.20" width="1" height="23.70" fill="#1ac58c" opacity="0.8"/>
<rect x="567.20" y="354.20" width="2.9" height="10.70" fill="#1ac58c"/>
<rect x="572" y="350.10" width="1" height="11.50" fill="#f2495f" opacity="0.8"/>
<rect x="571.29" y="354.80" width="2.9" height="1.30" fill="#f2495f"/>
<rect x="576" y="353.80" width="2" height="11.10" fill="#1ac58c" opacity="0.42"/>
<rect x="575.39" y="353.80" width="2.9" height="1.90" fill="#1ac58c"/>
<rect x="580" y="349.30" width="1" height="8.80" fill="#f2495f" opacity="0.8"/>
<rect x="579.48" y="354.20" width="2.9" height="3.90" fill="#f2495f"/>
<rect x="585" y="334.80" width="1" height="24.30" fill="#1ac58c" opacity="0.8"/>
<rect x="583.58" y="337.00" width="2.9" height="20.90" fill="#1ac58c"/>
<rect x="588" y="337.20" width="2" height="11.10" fill="#f2495f" opacity="0.42"/>
<rect x="587.67" y="337.20" width="2.9" height="5.60" fill="#f2495f"/>
<rect x="593" y="325.20" width="1" height="21.60" fill="#1ac58c" opacity="0.8"/>
<rect x="591.77" y="329.80" width="2.9" height="13.00" fill="#1ac58c"/>
<rect x="597" y="329.80" width="1" height="9.30" fill="#f2495f" opacity="0.8"/>
<rect x="595.87" y="329.80" width="2.9" height="8.40" fill="#f2495f"/>
<rect x="601" y="332.30" width="1" height="8.60" fill="#f2495f" opacity="0.8"/>
<rect x="599.96" y="337.20" width="2.9" height="3.70" fill="#f2495f"/>
<rect x="605" y="329.80" width="1" height="10.80" fill="#1ac58c" opacity="0.8"/>
<rect x="604.06" y="334.10" width="2.9" height="6.50" fill="#1ac58c"/>
<rect x="609" y="333.10" width="1" height="10.50" fill="#f2495f" opacity="0.8"/>
<rect x="608.15" y="334.20" width="2.9" height="6.90" fill="#f2495f"/>
<rect x="613" y="339.10" width="1" height="5.80" fill="#f2495f" opacity="0.8"/>
<rect x="612.25" y="340.90" width="2.9" height="2.70" fill="#f2495f"/>
<rect x="617" y="343.10" width="2" height="14.50" fill="#f2495f" opacity="0.42"/>
<rect x="616.34" y="343.10" width="2.9" height="11.80" fill="#f2495f"/>
<rect x="621" y="344.50" width="1" height="12.50" fill="#1ac58c" opacity="0.8"/>
<rect x="620.44" y="351.70" width="2.9" height="3.50" fill="#1ac58c"/>
<rect x="625" y="350.40" width="1" height="4.00" fill="#f2495f" opacity="0.8"/>
<rect x="624.53" y="351.10" width="2.9" height="2.40" fill="#f2495f"/>
<rect x="629" y="344.90" width="2" height="11.60" fill="#1ac58c" opacity="0.42"/>
<rect x="628.63" y="348.80" width="2.9" height="4.50" fill="#1ac58c"/>
<rect x="634" y="346.00" width="1" height="6.80" fill="#1ac58c" opacity="0.8"/>
<rect x="632.72" y="346.00" width="2.9" height="3.50" fill="#1ac58c"/>
<rect x="638" y="342.00" width="1" height="7.90" fill="#f2495f" opacity="0.8"/>
<rect x="636.82" y="345.80" width="2.9" height="2.10" fill="#f2495f"/>
<rect x="642" y="345.80" width="1" height="15.20" fill="#f2495f" opacity="0.8"/>
<rect x="640.92" y="346.90" width="2.9" height="8.50" fill="#f2495f"/>
<rect x="646" y="352.00" width="1" height="5.00" fill="#1ac58c" opacity="0.8"/>
<rect x="645.01" y="352.00" width="2.9" height="4.00" fill="#1ac58c"/>
<rect x="650" y="352.00" width="1" height="8.60" fill="#f2495f" opacity="0.8"/>
<rect x="649.11" y="352.00" width="2.9" height="5.80" fill="#f2495f"/>
<rect x="654" y="357.10" width="1" height="6.90" fill="#f2495f" opacity="0.8"/>
<rect x="653.20" y="357.10" width="2.9" height="5.00" fill="#f2495f"/>
<rect x="658" y="359.20" width="1" height="7.50" fill="#f2495f" opacity="0.8"/>
<rect x="657.30" y="360.80" width="2.9" height="5.90" fill="#f2495f"/>
<rect x="662" y="359.20" width="1" height="8.60" fill="#1ac58c" opacity="0.8"/>
<rect x="661.39" y="361.40" width="2.9" height="5.00" fill="#1ac58c"/>
<rect x="665.49" y="361.40" width="2.9" height="5.30" fill="#f2495f"/>
<rect x="671" y="359.20" width="1" height="8.10" fill="#1ac58c" opacity="0.8"/>
<rect x="669.58" y="361.00" width="2.9" height="5.40" fill="#1ac58c"/>
<rect x="675" y="353.10" width="1" height="9.90" fill="#1ac58c" opacity="0.8"/>
<rect x="673.68" y="357.60" width="2.9" height="4.50" fill="#1ac58c"/>
<rect x="678" y="353.80" width="2" height="8.10" fill="#f2495f" opacity="0.42"/>
<rect x="677.77" y="357.60" width="2.9" height="3.20" fill="#f2495f"/>
<rect x="683" y="356.00" width="1" height="4.60" fill="#1ac58c" opacity="0.8"/>
<rect x="681.87" y="357.10" width="2.9" height="3.50" fill="#1ac58c"/>
<rect x="687" y="355.20" width="1" height="6.50" fill="#f2495f" opacity="0.8"/>
<rect x="685.97" y="357.10" width="2.9" height="4.60" fill="#f2495f"/>
<rect x="691" y="357.80" width="1" height="4.10" fill="#1ac58c" opacity="0.8"/>
<rect x="690.06" y="360.80" width="2.9" height="1.10" fill="#1ac58c"/>
<rect x="695" y="353.10" width="1" height="8.80" fill="#1ac58c" opacity="0.8"/>
<rect x="694.16" y="358.90" width="2.9" height="3.00" fill="#1ac58c"/>
<rect x="699" y="348.10" width="1" height="11.70" fill="#1ac58c" opacity="0.8"/>
<rect x="698.25" y="350.00" width="2.9" height="9.80" fill="#1ac58c"/>
<rect x="703" y="346.00" width="1" height="13.20" fill="#f2495f" opacity="0.8"/>
<rect x="702.35" y="350.50" width="2.9" height="8.70" fill="#f2495f"/>
<rect x="707" y="355.90" width="1" height="4.50" fill="#1ac58c" opacity="0.8"/>
<rect x="706.44" y="355.90" width="2.9" height="3.60" fill="#1ac58c"/>
<rect x="711" y="345.90" width="2" height="11.00" fill="#1ac58c" opacity="0.42"/>
<rect x="710.54" y="353.10" width="2.9" height="3.80" fill="#1ac58c"/>
<rect x="716" y="346.60" width="1" height="7.60" fill="#1ac58c" opacity="0.8"/>
<rect x="714.63" y="349.90" width="2.9" height="4.30" fill="#1ac58c"/>
<rect x="718.73" y="349.90" width="2.9" height="8.00" fill="#f2495f"/>
<rect x="724" y="349.70" width="1" height="8.20" fill="#1ac58c" opacity="0.8"/>
<rect x="722.83" y="350.60" width="2.9" height="7.30" fill="#1ac58c"/>
<rect x="728" y="350.20" width="1" height="4.00" fill="#f2495f" opacity="0.8"/>
<rect x="726.92" y="351.50" width="2.9" height="1.60" fill="#f2495f"/>
<rect x="732" y="352.00" width="1" height="3.80" fill="#f2495f" opacity="0.8"/>
<rect x="731.02" y="352.00" width="2.9" height="2.50" fill="#f2495f"/>
<rect x="736" y="352.00" width="1" height="3.80" fill="#f2495f" opacity="0.8"/>
<rect x="735.11" y="353.80" width="2.9" height="2.00" fill="#f2495f"/>
<rect x="740" y="352.60" width="1" height="3.40" fill="#f2495f" opacity="0.8"/>
<rect x="739.21" y="354.90" width="2.9" height="1.10" fill="#f2495f"/>
<rect x="744" y="352.00" width="1" height="7.00" fill="#f2495f" opacity="0.8"/>
<rect x="743.30" y="354.90" width="2.9" height="4.10" fill="#f2495f"/>
<rect x="748" y="356.00" width="2" height="5.70" fill="#1ac58c" opacity="0.42"/>
<rect x="747.40" y="356.00" width="2.9" height="2.10" fill="#1ac58c"/>
<rect x="752" y="353.80" width="1" height="4.10" fill="#f2495f" opacity="0.8"/>
<rect x="751.49" y="356.30" width="2.9" height="1.60" fill="#f2495f"/>
<rect x="757" y="350.20" width="1" height="9.00" fill="#1ac58c" opacity="0.8"/>
<rect x="755.59" y="355.00" width="2.9" height="3.50" fill="#1ac58c"/>
<rect x="760" y="351.50" width="2" height="6.60" fill="#f2495f" opacity="0.42"/>
<rect x="759.68" y="355.00" width="2.9" height="1.90" fill="#f2495f"/>
<rect x="765" y="353.80" width="1" height="3.30" fill="#f2495f" opacity="0.8"/>
<rect x="763.78" y="355.80" width="2.9" height="1.30" fill="#f2495f"/>
<rect x="769" y="354.50" width="1" height="2.60" fill="#1ac58c" opacity="0.8"/>
<rect x="767.88" y="355.60" width="2.9" height="1.50" fill="#1ac58c"/>
<rect x="773" y="350.90" width="1" height="5.10" fill="#1ac58c" opacity="0.8"/>
<rect x="771.97" y="352.90" width="2.9" height="3.10" fill="#1ac58c"/>
<rect x="777" y="349.90" width="1" height="5.90" fill="#f2495f" opacity="0.8"/>
<rect x="776.07" y="352.60" width="2.9" height="1.20" fill="#f2495f"/>
<rect x="781" y="346.30" width="1" height="8.90" fill="#1ac58c" opacity="0.8"/>
<rect x="780.16" y="346.30" width="2.9" height="7.90" fill="#1ac58c"/>
<rect x="785" y="343.70" width="1" height="7.20" fill="#f2495f" opacity="0.8"/>
<rect x="784.26" y="346.60" width="2.9" height="1.90" fill="#f2495f"/>
<rect x="789" y="344.50" width="1" height="3.80" fill="#1ac58c" opacity="0.8"/>
<rect x="788.35" y="345.90" width="2.9" height="2.40" fill="#1ac58c"/>
<rect x="793" y="337.00" width="1" height="10.00" fill="#1ac58c" opacity="0.8"/>
<rect x="792.45" y="344.00" width="2.9" height="3.00" fill="#1ac58c"/>
<rect x="797" y="339.90" width="1" height="6.20" fill="#1ac58c" opacity="0.8"/>
<rect x="796.54" y="342.00" width="2.9" height="2.80" fill="#1ac58c"/>
<rect x="801" y="339.50" width="2" height="3.50" fill="#f2495f" opacity="0.42"/>
<rect x="800.64" y="341.50" width="2.9" height="1.50" fill="#f2495f"/>
<rect x="806" y="340.50" width="1" height="6.50" fill="#f2495f" opacity="0.8"/>
<rect x="804.74" y="342.00" width="2.9" height="2.00" fill="#f2495f"/>
<rect x="810" y="341.50" width="1" height="3.50" fill="#f2495f" opacity="0.8"/>
<rect x="808.83" y="343.00" width="2.9" height="2.00" fill="#f2495f"/>
<rect x="812.93" y="337.30" width="2.9" height="7.60" fill="#1ac58c"/>
<rect x="818" y="320.30" width="1" height="20.20" fill="#1ac58c" opacity="0.8"/>
<rect x="817.02" y="324.20" width="2.9" height="14.00" fill="#1ac58c"/>
<rect x="822" y="301.30" width="1" height="26.90" fill="#1ac58c" opacity="0.8"/>
<rect x="821.12" y="304.10" width="2.9" height="20.60" fill="#1ac58c"/>
<rect x="826" y="272.00" width="1" height="37.80" fill="#1ac58c" opacity="0.8"/>
<rect x="825.21" y="279.00" width="2.9" height="25.50" fill="#1ac58c"/>
<rect x="830" y="260.00" width="2" height="27.80" fill="#1ac58c" opacity="0.42"/>
<rect x="829.31" y="278.10" width="2.9" height="1.80" fill="#1ac58c"/>
<rect x="834" y="211.70" width="1" height="67.80" fill="#1ac58c" opacity="0.8"/>
<rect x="833.40" y="221.20" width="2.9" height="58.30" fill="#1ac58c"/>
<rect x="838" y="190.60" width="2" height="69.90" fill="#1ac58c" opacity="0.42"/>
<rect x="837.50" y="220.80" width="2.9" height="0.90" fill="#1ac58c"/>
<rect x="842" y="195.20" width="2" height="52.30" fill="#1ac58c" opacity="0.42"/>
<rect x="841.60" y="200.10" width="2.9" height="21.10" fill="#1ac58c"/>
<rect x="847" y="142.20" width="1" height="73.70" fill="#1ac58c" opacity="0.8"/>
<rect x="845.69" y="161.50" width="2.9" height="39.60" fill="#1ac58c"/>
<rect x="851" y="141.10" width="1" height="40.00" fill="#1ac58c" opacity="0.8"/>
<rect x="849.79" y="161.30" width="2.9" height="1.30" fill="#1ac58c"/>
<rect x="855" y="110.40" width="1" height="74.30" fill="#1ac58c" opacity="0.8"/>
<rect x="853.88" y="112.20" width="2.9" height="49.50" fill="#1ac58c"/>
<rect x="859" y="49.50" width="1" height="71.30" fill="#1ac58c" opacity="0.8"/>
<rect x="857.98" y="79.10" width="2.9" height="33.40" fill="#1ac58c"/>
<rect x="863" y="57.90" width="1" height="41.50" fill="#f2495f" opacity="0.8"/>
<rect x="862.07" y="79.10" width="2.9" height="8.00" fill="#f2495f"/>
<rect x="867" y="82.70" width="1" height="44.80" fill="#f2495f" opacity="0.8"/>
<rect x="866.17" y="86.50" width="2.9" height="16.70" fill="#f2495f"/>
</g>
<text x="12.60" y="21.00" fill="#999eae" textLength="49.30" lengthAdjust="spacingAndGlyphs">AGI/USDT, 1D</text>
<text x="67.00" y="21.00" fill="#999eae" textLength="5.60" lengthAdjust="spacingAndGlyphs">O</text>
<text x="72.80" y="21.00" fill="#e5465d" textLength="28.40" lengthAdjust="spacingAndGlyphs">0.26796</text>
<text x="106.40" y="21.00" fill="#999eae" textLength="5.00" lengthAdjust="spacingAndGlyphs">H</text>
<text x="111.60" y="21.00" fill="#e5465d" textLength="28.50" lengthAdjust="spacingAndGlyphs">0.27145</text>
<text x="145.70" y="21.00" fill="#999eae" textLength="3.30" lengthAdjust="spacingAndGlyphs">L</text>
<text x="149.20" y="21.00" fill="#e5465d" textLength="28.80" lengthAdjust="spacingAndGlyphs">0.23439</text>
<text x="183.20" y="21.00" fill="#999eae" textLength="4.70" lengthAdjust="spacingAndGlyphs">C</text>
<text x="188.10" y="21.00" fill="#e5465d" textLength="28.50" lengthAdjust="spacingAndGlyphs">0.25465</text>
<text x="222.10" y="21.00" fill="#e5465d" textLength="31.90" lengthAdjust="spacingAndGlyphs">−0.01292</text>
<text x="257.90" y="21.00" fill="#e5465d" textLength="29.50" lengthAdjust="spacingAndGlyphs">(−4.83%)</text>
<text x="12.80" y="447.60" fill="#999eae" textLength="59.40" lengthAdjust="spacingAndGlyphs">Volume (SMA, 9)</text>
<text x="77.80" y="447.60" fill="#e5465d" textLength="30.00" lengthAdjust="spacingAndGlyphs">14.398M</text>
<text x="976.80" y="392.00" fill="#999eae" textLength="28.80" lengthAdjust="spacingAndGlyphs">0.02000</text>
<text x="976.80" y="367.00" fill="#999eae" textLength="28.80" lengthAdjust="spacingAndGlyphs">0.04000</text>
<text x="976.80" y="343.00" fill="#999eae" textLength="28.80" lengthAdjust="spacingAndGlyphs">0.06000</text>
<text x="976.80" y="319.00" fill="#999eae" textLength="28.80" lengthAdjust="spacingAndGlyphs">0.08000</text>
<text x="976.80" y="294.00" fill="#999eae" textLength="28.80" lengthAdjust="spacingAndGlyphs">0.10000</text>
<text x="976.80" y="270.00" fill="#999eae" textLength="28.80" lengthAdjust="spacingAndGlyphs">0.12000</text>
<text x="976.80" y="245.00" fill="#999eae" textLength="28.80" lengthAdjust="spacingAndGlyphs">0.14000</text>
<text x="976.80" y="221.00" fill="#999eae" textLength="28.80" lengthAdjust="spacingAndGlyphs">0.16000</text>
<text x="976.80" y="197.00" fill="#999eae" textLength="28.80" lengthAdjust="spacingAndGlyphs">0.18000</text>
<text x="976.80" y="172.00" fill="#999eae" textLength="28.80" lengthAdjust="spacingAndGlyphs">0.20000</text>
<text x="976.80" y="148.00" fill="#999eae" textLength="28.80" lengthAdjust="spacingAndGlyphs">0.22000</text>
<text x="976.80" y="124.00" fill="#999eae" textLength="28.80" lengthAdjust="spacingAndGlyphs">0.24000</text>
<text x="976.80" y="99.00" fill="#999eae" textLength="28.80" lengthAdjust="spacingAndGlyphs">0.26000</text>
<text x="976.80" y="75.00" fill="#999eae" textLength="28.80" lengthAdjust="spacingAndGlyphs">0.28000</text>
<text x="976.80" y="50.00" fill="#999eae" textLength="28.80" lengthAdjust="spacingAndGlyphs">0.30000</text>
<text x="976.80" y="26.00" fill="#999eae" textLength="28.80" lengthAdjust="spacingAndGlyphs">0.32000</text>
<text x="976.90" y="416.00" fill="#999eae" textLength="33.20" lengthAdjust="spacingAndGlyphs">−0.00000</text>
<text x="976.80" y="455.30" fill="#999eae" textLength="14.40" lengthAdjust="spacingAndGlyphs">40M</text>
<text x="976.80" y="491.60" fill="#999eae" textLength="14.40" lengthAdjust="spacingAndGlyphs">20M</text>
<rect x="969.2" y="97.1" width="41.1" height="11.9" rx="1.2" fill="#ef475f"/>
<text x="976.80" y="106.00" fill="#ffffff" textLength="28.80" lengthAdjust="spacingAndGlyphs">0.25465</text>
<g clip-path="url(#cc)">
<text x="0.70" y="538.60" fill="#999eae" textLength="13.73" lengthAdjust="spacingAndGlyphs">Aug</text>
<text x="60.61" y="538.60" fill="#999eae" textLength="8.59" lengthAdjust="spacingAndGlyphs">15</text>
<text x="127.66" y="538.60" fill="#999eae" textLength="13.73" lengthAdjust="spacingAndGlyphs">Sep</text>
<text x="187.57" y="538.60" fill="#999eae" textLength="8.59" lengthAdjust="spacingAndGlyphs">15</text>
<text x="251.38" y="538.60" fill="#999eae" textLength="12.01" lengthAdjust="spacingAndGlyphs">Oct</text>
<text x="310.43" y="538.60" fill="#999eae" textLength="8.59" lengthAdjust="spacingAndGlyphs">15</text>
<text x="377.49" y="538.60" fill="#999eae" textLength="13.73" lengthAdjust="spacingAndGlyphs">Nov</text>
<text x="437.39" y="538.60" fill="#999eae" textLength="8.59" lengthAdjust="spacingAndGlyphs">15</text>
<text x="500.35" y="538.60" fill="#999eae" textLength="13.73" lengthAdjust="spacingAndGlyphs">Dec</text>
<text x="560.26" y="538.60" fill="#999eae" textLength="8.59" lengthAdjust="spacingAndGlyphs">15</text>
<text x="625.59" y="538.60" fill="#b4b7c1" textLength="17.17" lengthAdjust="spacingAndGlyphs" font-weight="bold">2024</text>
<text x="687.22" y="538.60" fill="#999eae" textLength="8.59" lengthAdjust="spacingAndGlyphs">15</text>
<text x="754.48" y="538.60" fill="#999eae" textLength="13.30" lengthAdjust="spacingAndGlyphs">Feb</text>
<text x="814.18" y="538.60" fill="#999eae" textLength="8.59" lengthAdjust="spacingAndGlyphs">15</text>
<text x="873.26" y="538.60" fill="#999eae" textLength="13.29" lengthAdjust="spacingAndGlyphs">Mar</text>
<text x="932.95" y="538.60" fill="#999eae" textLength="8.59" lengthAdjust="spacingAndGlyphs">15</text>
</g>
<g transform="translate(7.1,552.05) scale(0.372)" fill="#d5d8e0">
<path d="M14 22H7V11H0V4h14z"/><circle cx="20" cy="8" r="4"/><path d="M28 22h-8l7.5-18h8z"/>
</g>
<text x="23.1" y="560.3" fill="#d5d8e0" stroke="#d5d8e0" stroke-width="0.32" font-size="8.6" textLength="47.5" lengthAdjust="spacingAndGlyphs">TradingView</text>
</svg></body></html>
